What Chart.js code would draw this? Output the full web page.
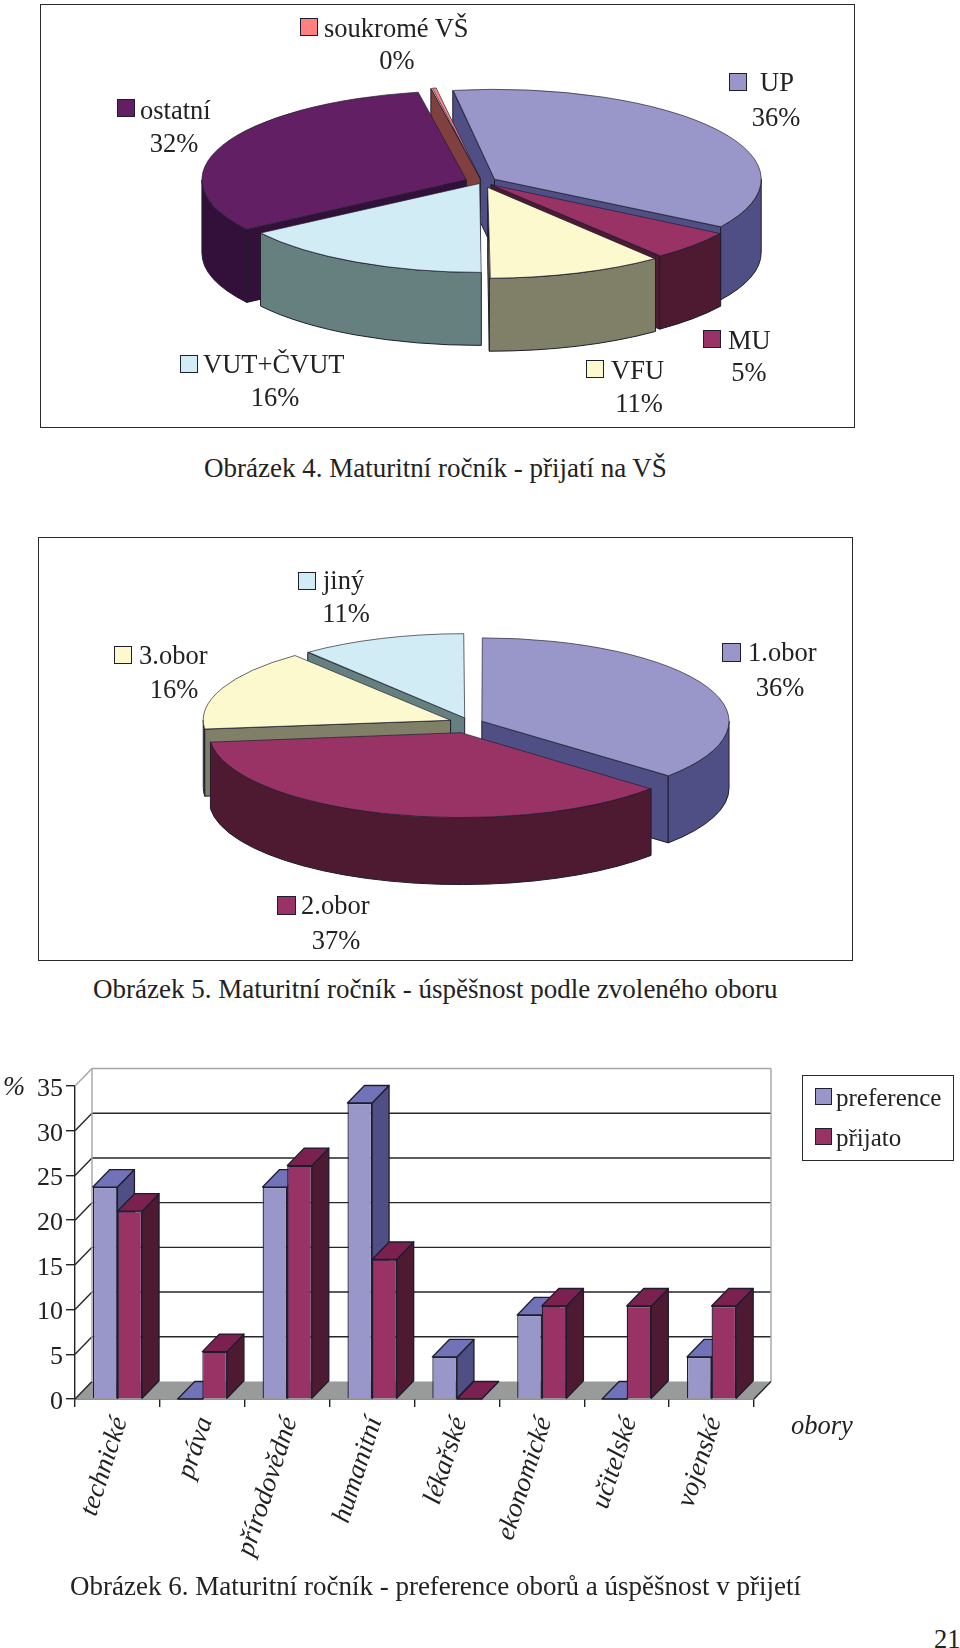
<!DOCTYPE html>
<html lang="cs">
<head>
  <meta charset="UTF-8" />
  <title>Maturitní ročník</title>
  <script src="https://cdn.jsdelivr.net/npm/chart.js"></script>
  <style>
    html, body { margin: 0; padding: 0; background: #fff; }
    body { position: relative; width: 960px; height: 1648px; overflow: hidden;
      font-family: 'Liberation Serif', serif; color: #222; font-size: 26.5px; }
    .box { position: absolute; border: 1.5px solid #2a2a2a; box-sizing: border-box; }
    canvas { position: absolute; display: block; }
    .txt { position: absolute; white-space: nowrap; line-height: 1; }
    .cap { font-size: 27px; }
    .swatch { position: absolute; border: 1.5px solid #1d1d33; box-sizing: border-box; }
  </style>
</head>
<body>
  <div class="box" style="left:40px;top:4px;width:815px;height:424px"></div>
  <canvas id="pie1" style="left:0;top:0"></canvas>
  <div class="txt cap" style="left:204px;top:455px">Obrázek 4. Maturitní ročník - přijatí na VŠ</div>

  <div class="box" style="left:38px;top:537px;width:815px;height:424px"></div>
  <canvas id="pie2" style="left:0;top:500px"></canvas>
  <div class="txt cap" style="left:93px;top:976px">Obrázek 5. Maturitní ročník - úspěšnost podle zvoleného oboru</div>

  <canvas id="bars" style="left:0;top:1040px"></canvas>
  <div class="txt" style="left:3px;top:1073px;font-style:italic">%</div>
  <div class="txt" style="left:791px;top:1412px;font-style:italic">obory</div>
  <div class="box" style="left:802px;top:1075px;width:152px;height:86px"></div>
  <div class="txt cap" style="left:70px;top:1573px">Obrázek 6. Maturitní ročník - preference oborů a úspěšnost v přijetí</div>
  <div class="txt" style="left:934px;top:1626px">21</div>

  <script>
    const pie1Labels = ['UP', 'MU', 'VFU', 'VUT+ČVUT', 'ostatní', 'soukromé VŠ'];
    const pie1Values = [36.4, 5.4, 10.6, 15.7, 31.5, 0.4];
    const pie2Labels = ['1.obor', '2.obor', '3.obor', 'jiný'];
    const pie2Values = [36.4, 36.9, 15.9, 10.8];
    const barCategories = ['technické', 'práva', 'přírodovědné', 'humanitní', 'lékařské', 'ekonomické', 'učitelské', 'vojenské'];
    const preferenceValues = [23.7, 0, 23.7, 33.1, 4.7, 9.4, 0, 4.7];
    const acceptedValues = [21, 5.3, 26.1, 15.6, 0, 10.4, 10.4, 10.4];
    const seriesNames = ['preference', 'přijato'];

    const pie1Colors = ['#9996c9', '#993366', '#fdf9cf', '#d2ecf5', '#621f63', '#ff8080'];
    const pie1Sides = ['#4f4f85', '#4e1a32', '#808068', '#668080', '#32103a', '#804040'];
    const pie1Offsets = [60, 48, 68, 20, 68, 40];
    const pie1SideOrder = [0, 5, 4, 1, 3, 2];
    const pie2Colors = ['#9996c9', '#993366', '#fdf9cf', '#d2ecf5'];
    const pie2Sides = ['#4f4f85', '#4e1a32', '#808068', '#668080'];
    const pie2Offsets = [52, 120, 84, 64];
    const pie2SideOrder = [3, 2, 0, 1];

    const INK = '#1d1d2e';
    const SQUASH = 0.337;

    // pie seen at an angle: sides are drawn from the arcs, tops by the library under a squash
    function pie3d(depth, sideOrder) {
      return {
        id: 'pie3d',
        beforeDatasetDraw(chart, args) {
          const ctx = chart.ctx;
          const sides = chart.data.datasets[0].sideColors;
          sideOrder.forEach(i => {
            const arc = args.meta.data[i];
            const mid = (arc.startAngle + arc.endAngle) / 2;
            const off = (arc.options.offset || 0) / 4;
            const circ = arc.endAngle - arc.startAngle;
            const r = arc.outerRadius + off * (1 - Math.sin(Math.min(Math.PI, circ)));
            const ax = arc.x + Math.cos(mid) * off;
            const ay = arc.y + SQUASH * Math.sin(mid) * off;
            ctx.save();
            ctx.fillStyle = sides[i];
            ctx.strokeStyle = INK;
            ctx.lineWidth = 1;
            const face = a => {
              const ex = ax + r * Math.cos(a), ey = ay + SQUASH * r * Math.sin(a);
              ctx.beginPath();
              ctx.moveTo(ax, ay);
              ctx.lineTo(ex, ey);
              ctx.lineTo(ex, ey + depth);
              ctx.lineTo(ax, ay + depth);
              ctx.closePath();
              ctx.fill();
              ctx.stroke();
            };
            if (Math.cos(arc.startAngle) < 0) face(arc.startAngle);
            if (Math.cos(arc.endAngle) > 0) face(arc.endAngle);
            const a0 = Math.max(arc.startAngle, 0);
            const a1 = Math.min(arc.endAngle, Math.PI);
            if (a1 > a0) {
              ctx.beginPath();
              ctx.ellipse(ax, ay, r, r * SQUASH, 0, a0, a1);
              ctx.ellipse(ax, ay + depth, r, r * SQUASH, 0, a1, a0, true);
              ctx.closePath();
              ctx.fill();
              ctx.stroke();
            }
            ctx.restore();
          });

          const cy = args.meta.data[0].y;
          ctx.save();
          ctx.translate(0, cy);
          ctx.scale(1, SQUASH);
          ctx.translate(0, -cy);
        },
        afterDatasetDraw(chart) {
          chart.ctx.restore();
        }
      };
    }

    function makePie(id, labels, values, colors, sides, offsets, radius, rotation, padding, depth, sideOrder) {
      const canvas = document.getElementById(id);
      canvas.width = 960;
      canvas.height = 440;
      return new Chart(canvas, {
        type: 'pie',
        data: {
          labels,
          datasets: [{
            data: values,
            backgroundColor: colors,
            sideColors: sides,
            offset: offsets,
            borderColor: INK,
            borderWidth: 1,
            clip: false
          }]
        },
        options: {
          responsive: false,
          animation: false,
          radius,
          rotation,
          layout: { autoPadding: false, padding },
          plugins: { legend: { display: false }, tooltip: { enabled: false } }
        },
        plugins: [pie3d(depth, sideOrder)]
      });
    }

    // canvas 960 wide: the pie centre is set through the padding
    makePie('pie1', pie1Labels, pie1Values, pie1Colors, pie1Sides, pie1Offsets, 263, -9,
      { left: 4, right: 0, top: 0, bottom: 76 }, 73, pie1SideOrder);
    makePie('pie2', pie2Labels, pie2Values, pie2Colors, pie2Sides, pie2Offsets, 244, 0,
      { left: 0, right: 20, top: 6, bottom: 0 }, 67, pie2SideOrder);

    const DX = 17, DY = 17.5;

    const wall3d = {
      id: 'wall3d',
      beforeDatasetsDraw(chart) {
        const ctx = chart.ctx, y = chart.scales.y, x = chart.scales.x;
        const y0 = y.getPixelForValue(0), yTop = y.getPixelForValue(y.max);
        ctx.save();
        ctx.fillStyle = '#999a9a';
        ctx.beginPath();
        ctx.moveTo(x.left, y0);
        ctx.lineTo(x.right, y0);
        ctx.lineTo(x.right + DX, y0 - DY);
        ctx.lineTo(x.left + DX, y0 - DY);
        ctx.closePath();
        ctx.fill();
        y.ticks.forEach(t => {
          const py = y.getPixelForValue(t.value);
          const top = t.value === y.max;
          ctx.strokeStyle = top ? '#a5a5a5' : '#26262b';
          ctx.lineWidth = 1.4;
          if (t.value > 0) {
            ctx.beginPath();
            ctx.moveTo(x.right + DX, py - DY);
            ctx.lineTo(x.left + DX, py - DY);
            ctx.stroke();
          }
          ctx.beginPath();
          ctx.moveTo(x.left, py);
          ctx.lineTo(x.left + DX, py - DY);
          ctx.stroke();
        });
        ctx.strokeStyle = '#a5a5a5';
        ctx.beginPath();
        ctx.moveTo(x.left + DX, yTop - DY);
        ctx.lineTo(x.left + DX, y0 - DY);
        ctx.moveTo(x.right + DX, yTop - DY);
        ctx.lineTo(x.right + DX, y0 - DY);
        ctx.stroke();
        ctx.strokeStyle = '#26262b';
        ctx.beginPath();
        ctx.moveTo(x.right, y0);
        ctx.lineTo(x.right + DX, y0 - DY);
        ctx.stroke();

        // depth of the bars goes first, the library then paints the fronts over it
        ctx.strokeStyle = INK;
        ctx.lineWidth = 1.3;
        ctx.lineJoin = 'round';
        chart.data.datasets.forEach((ds, index) => {
          chart.getDatasetMeta(index).data.forEach(bar => {
            const l = bar.x - bar.width / 2, r = bar.x + bar.width / 2;
            ctx.fillStyle = ds.sideColor;
            ctx.beginPath();
            ctx.moveTo(r, bar.base);
            ctx.lineTo(r + DX, bar.base - DY);
            ctx.lineTo(r + DX, bar.y - DY);
            ctx.lineTo(r, bar.y);
            ctx.closePath();
            ctx.fill();
            ctx.stroke();
            ctx.fillStyle = ds.topColor;
            ctx.beginPath();
            ctx.moveTo(l, bar.y);
            ctx.lineTo(l + DX, bar.y - DY);
            ctx.lineTo(r + DX, bar.y - DY);
            ctx.lineTo(r, bar.y);
            ctx.closePath();
            ctx.fill();
            ctx.stroke();
          });
        });
        ctx.restore();
      }
    };

    const barCanvas = document.getElementById('bars');
    barCanvas.width = 960;
    barCanvas.height = 540;
    const PLOT_LEFT = 75, PLOT_RIGHT = 754, PLOT_TOP = 46, PLOT_BOTTOM = 359;
    new Chart(barCanvas, {
      type: 'bar',
      data: {
        labels: barCategories,
        datasets: [
          { label: seriesNames[0], data: preferenceValues, backgroundColor: '#9996c9', topColor: '#7272b8', sideColor: '#4f4f85' },
          { label: seriesNames[1], data: acceptedValues, backgroundColor: '#993366', topColor: '#7b2150', sideColor: '#4e1a32' }
        ]
      },
      options: {
        responsive: false,
        animation: false,
        categoryPercentage: 0.58,
        barPercentage: 1,
        elements: { bar: { borderColor: INK, borderWidth: 1.3 } },
        layout: { autoPadding: false, padding: { left: 0, right: 960 - PLOT_RIGHT, top: PLOT_TOP, bottom: 0 } },
        plugins: { legend: { display: false }, tooltip: { enabled: false } },
        scales: {
          y: {
            min: 0,
            max: 35,
            ticks: { stepSize: 5, color: '#222', padding: 3, labelOffset: 3, font: { family: 'Liberation Serif', size: 26 } },
            grid: { drawOnChartArea: false, drawTicks: true, tickLength: 9, color: '#222', lineWidth: 1.4 },
            border: { color: '#222', width: 1.4 },
            afterFit(scale) { scale.width = PLOT_LEFT; }
          },
          x: {
            ticks: { color: '#222', minRotation: 72, maxRotation: 72, padding: 6, labelOffset: 3, autoSkip: false,
              font: { family: 'Liberation Serif', size: 27, style: 'italic' } },
            grid: { drawOnChartArea: false, drawTicks: true, tickLength: 8, color: '#222', lineWidth: 1.4, offset: true },
            border: { color: '#222', width: 1.6 },
            afterFit(scale) { scale.height = 540 - PLOT_BOTTOM; }
          }
        }
      },
      plugins: [wall3d]
    });

    // legends of the pies sit next to their slices, so they are placed by hand
    const pie1Layout = [[729, 73, 18, 760, 82, 776, 117], [703, 330, 18, 728, 340, 749, 372], [586, 360, 18, 611, 370, 639, 403],
      [180, 355, 18, 203, 364, 275, 397], [117, 99, 18, 140, 110, 174, 143], [300, 18, 18, 324, 28, 397, 60]];
    const pie2Layout = [[722, 643, 19, 748, 652, 780, 687], [277, 896, 19, 301, 905, 336, 940],
      [114, 646, 18, 139, 655, 174, 689], [298, 572, 18, 323, 580, 346, 613]];

    function addText(text, left, mid, centered, size) {
      const el = document.createElement('div');
      el.className = 'txt';
      el.textContent = text;
      el.style.left = left + 'px';
      el.style.top = mid + 'px';
      if (size) el.style.fontSize = size + 'px';
      el.style.transform = centered ? 'translate(-50%,-50%)' : 'translateY(-50%)';
      document.body.appendChild(el);
    }
    function addSwatch(color, left, top, size) {
      const el = document.createElement('div');
      el.className = 'swatch';
      el.style.cssText = `left:${left}px;top:${top}px;width:${size}px;height:${size}px;background:${color}`;
      document.body.appendChild(el);
    }
    function addPieLegend(labels, values, colors, layout) {
      labels.forEach((name, i) => {
        const [sx, sy, ss, tx, ty, px, py] = layout[i];
        addSwatch(colors[i], sx, sy, ss);
        addText(name, tx, ty, false);
        addText(Math.round(values[i]) + '%', px, py, true);
      });
    }
    addPieLegend(pie1Labels, pie1Values, pie1Colors, pie1Layout);
    addPieLegend(pie2Labels, pie2Values, pie2Colors, pie2Layout);

    addSwatch('#9996c9', 815, 1088, 17);
    addText(seriesNames[0], 836, 1097, false, 25);
    addSwatch('#993366', 815, 1128, 17);
    addText(seriesNames[1], 836, 1137, false, 25);
  </script>
</body>
</html>
